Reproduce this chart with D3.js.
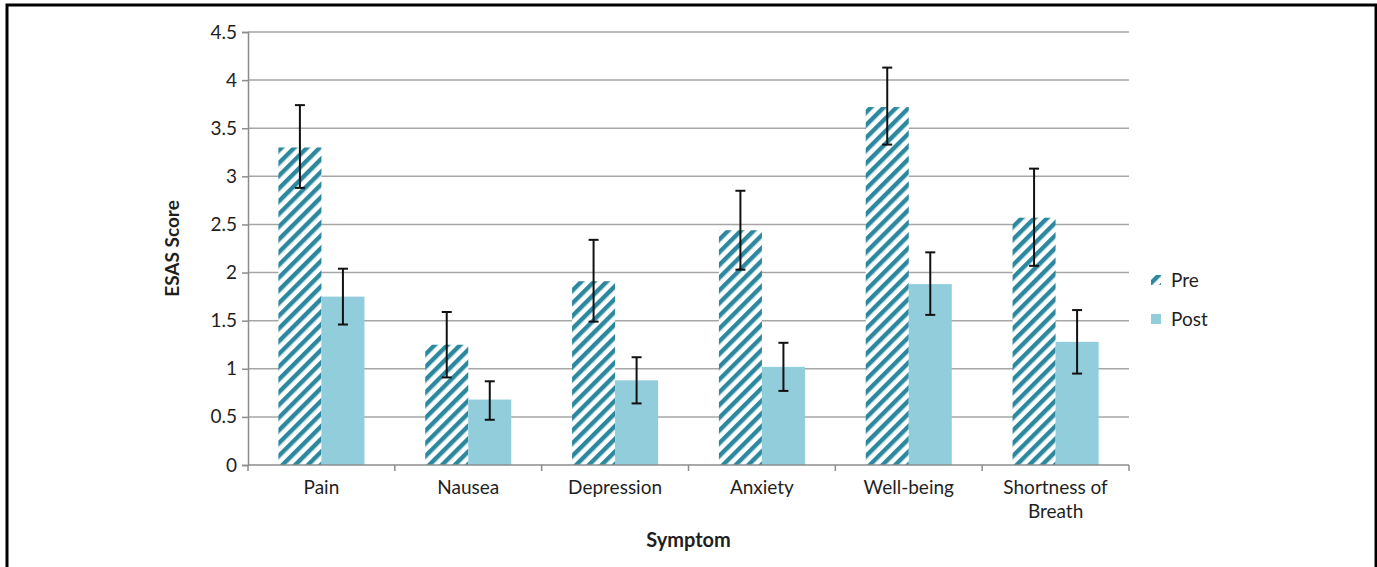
<!DOCTYPE html>
<html>
<head>
<meta charset="utf-8">
<script src="https://cdn.jsdelivr.net/npm/d3@7"></script>
<style>
  html, body { margin: 0; padding: 0; background: #fff; }
  svg { display: block; }
  text { font-family: Lato, "Open Sans", sans-serif; fill: #1f1f1f; }
</style>
</head>
<body>
<svg id="chart" width="1377" height="567"></svg>
<script>
const categories = ["Pain", "Nausea", "Depression", "Anxiety", "Well-being", "Shortness of Breath"];
const categoryLines = [["Pain"], ["Nausea"], ["Depression"], ["Anxiety"], ["Well-being"], ["Shortness of", "Breath"]];
const seriesNames = ["Pre", "Post"];
const preValues = [3.30, 1.25, 1.91, 2.44, 3.72, 2.57];
const preErrHigh = [3.74, 1.59, 2.34, 2.85, 4.13, 3.08];
const preErrLow = [2.88, 0.91, 1.49, 2.03, 3.33, 2.07];
const postValues = [1.75, 0.68, 0.88, 1.02, 1.88, 1.28];
const postErrHigh = [2.04, 0.87, 1.12, 1.27, 2.21, 1.61];
const postErrLow = [1.46, 0.47, 0.64, 0.77, 1.56, 0.95];
const yTicks = [0, 0.5, 1, 1.5, 2, 2.5, 3, 3.5, 4, 4.5];
const yTickLabels = ["0", "0.5", "1", "1.5", "2", "2.5", "3", "3.5", "4", "4.5"];
const yTitle = "ESAS Score";
const xTitle = "Symptom";

(function () {
const preColor = "#2C889F";
const postColor = "#92CDDC";
const gridColor = "#A6A6A6";
const axisColor = "#8C8C8C";
const fs = 19;

const svg = d3.select("#chart");

// frame
svg.append("rect")
  .attr("x", 7).attr("y", 5).attr("width", 1369).attr("height", 600)
  .attr("fill", "none").attr("stroke", "#000").attr("stroke-width", 3);

// pattern
const defs = svg.append("defs");
const pat = defs.append("pattern")
  .attr("id", "diag")
  .attr("patternUnits", "userSpaceOnUse")
  .attr("width", 9).attr("height", 9)
  .attr("patternTransform", "rotate(45)");
pat.append("rect").attr("width", 9).attr("height", 9).attr("fill", "#fff");
pat.append("rect").attr("x", 0).attr("y", 0).attr("width", 4.4).attr("height", 9).attr("fill", preColor);

const mLeft = 248, mRight = 1129, mTop = 32, mBottom = 465;

const y = d3.scaleLinear().domain([0, 4.5]).range([mBottom, mTop]);
const x0 = d3.scaleBand().domain(categories).range([mLeft, mRight]).paddingInner(0).paddingOuter(0);
const bw = x0.bandwidth();
const x1 = d3.scaleBand().domain(seriesNames).range([bw * 0.207, bw * 0.793]).padding(0);

// gridlines
svg.append("g").selectAll("line")
  .data(yTicks.filter(d => d > 0))
  .join("line")
  .attr("x1", mLeft).attr("x2", mRight)
  .attr("y1", d => y(d)).attr("y2", d => y(d))
  .attr("stroke", gridColor).attr("stroke-width", 1.5);

// y axis
const yAxis = d3.axisLeft(y).tickValues(yTicks).tickFormat((d, i) => yTickLabels[i]).tickSize(6).tickPadding(5);
const yg = svg.append("g").attr("transform", `translate(${mLeft},0)`).call(yAxis);
yg.select(".domain").attr("stroke", axisColor).attr("stroke-width", 1.5);
yg.selectAll(".tick line").attr("stroke", axisColor).attr("stroke-width", 1.5);
yg.selectAll(".tick text").attr("font-size", fs).attr("fill", "#1f1f1f").attr("font-family", "Lato, sans-serif");

// data rows
const rows = categories.map((c, i) => ({
  cat: c,
  bars: [
    { s: "Pre", v: preValues[i], hi: preErrHigh[i], lo: preErrLow[i] },
    { s: "Post", v: postValues[i], hi: postErrHigh[i], lo: postErrLow[i] }
  ]
}));

const groups = svg.append("g").selectAll("g")
  .data(rows).join("g")
  .attr("transform", d => `translate(${x0(d.cat)},0)`);

groups.selectAll("rect")
  .data(d => d.bars).join("rect")
  .attr("x", d => x1(d.s))
  .attr("width", x1.bandwidth())
  .attr("y", d => y(d.v))
  .attr("height", d => y(0) - y(d.v))
  .attr("fill", d => d.s === "Pre" ? "url(#diag)" : postColor);

// x axis
const xg = svg.append("g").attr("transform", `translate(0,${mBottom})`);
xg.append("line").attr("x1", mLeft).attr("x2", mRight).attr("y1", 0).attr("y2", 0)
  .attr("stroke", axisColor).attr("stroke-width", 1.5);
xg.selectAll("line.tk")
  .data(categories.map(c => x0(c)).concat([mRight]))
  .join("line").attr("class", "tk")
  .attr("x1", d => d).attr("x2", d => d).attr("y1", 0).attr("y2", 6)
  .attr("stroke", axisColor).attr("stroke-width", 1.5);
const labels = xg.selectAll("text.cat")
  .data(categories).join("text").attr("class", "cat")
  .attr("x", d => x0(d) + bw / 2)
  .attr("y", 29)
  .attr("text-anchor", "middle")
  .attr("font-size", fs);
labels.each(function(d, i) {
  const t = d3.select(this);
  categoryLines[i].forEach((ln, j) => {
    t.append("tspan").attr("x", x0(d) + bw / 2).attr("dy", j === 0 ? 0 : 24).text(ln);
  });
});

// error bars
const eb = groups.selectAll("g.err").data(d => d.bars).join("g").attr("class", "err");
eb.append("line")
  .attr("x1", d => x1(d.s) + x1.bandwidth() / 2).attr("x2", d => x1(d.s) + x1.bandwidth() / 2)
  .attr("y1", d => y(d.hi)).attr("y2", d => y(d.lo))
  .attr("stroke", "#111").attr("stroke-width", 2);
["hi", "lo"].forEach(k => {
  eb.append("line")
    .attr("x1", d => x1(d.s) + x1.bandwidth() / 2 - 5).attr("x2", d => x1(d.s) + x1.bandwidth() / 2 + 5)
    .attr("y1", d => y(d[k])).attr("y2", d => y(d[k]))
    .attr("stroke", "#111").attr("stroke-width", 2);
});

// titles
svg.append("text")
  .attr("transform", `translate(179,${(mTop + mBottom) / 2}) rotate(-90)`)
  .attr("text-anchor", "middle")
  .attr("font-size", 19).attr("font-weight", "bold")
  .text(yTitle);
svg.append("text")
  .attr("x", (mLeft + mRight) / 2).attr("y", 547)
  .attr("text-anchor", "middle")
  .attr("font-size", 20).attr("font-weight", "bold")
  .text(xTitle);

// legend
const legend = svg.append("g").attr("transform", "translate(1151,0)");
const legY = [280, 319];
legend.selectAll("rect")
  .data(seriesNames).join("rect")
  .attr("x", 0).attr("y", (d, i) => legY[i] - 5)
  .attr("width", 10).attr("height", 10)
  .attr("fill", d => d === "Pre" ? "url(#diag)" : postColor);
legend.selectAll("text")
  .data(seriesNames).join("text")
  .attr("x", 20).attr("y", (d, i) => legY[i] + 7)
  .attr("font-size", fs)
  .text(d => d);
})();
</script>
</body>
</html>
